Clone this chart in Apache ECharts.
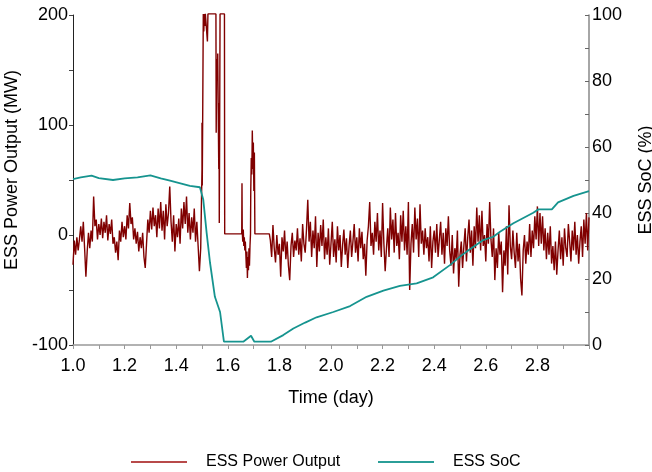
<!DOCTYPE html>
<html>
<head>
<meta charset="UTF-8">
<title>ESS power and SoC</title>
<script src="https://cdn.jsdelivr.net/npm/echarts@6/dist/echarts.min.js"></script>
<style>
  html, body { margin: 0; padding: 0; background: #fff; }
  #main { width: 652px; height: 472px; }
</style>
</head>
<body>
<div id="main"></div>
<script type="text/javascript">
// power output, first stretch (day 1.000 .. 1.500, every 0.005 day)
var powerStartA = 1.0;
var powerStepA = 0.005;
var powerA = [
  -27, -5, -18, -2, -14, -4, 8, -6, 12, -12,
  -38, -15, 2, -12, 4, -6, 35, 8, 14, -4,
  10, 0, 15, -3, 12, 2, 18, -5, 10, 1,
  14, -8, -2, -16, -6, -23, 4, -6, 12, -2,
  8, -4, 18, 6, 29, 10, 16, -4, 6, -8,
  3, -15, -2, -12, 2, -20, -30, -8, 14, 2,
  22, 5, 25, 8, 18, -2, 24, 6, 30, 4,
  22, -4, 28, 8, 20, 44, 12, -6, 18, -15,
  10, -2, 15, -8, 24, 6, 30, 10, 35, 2,
  20, -4, 16, 2, 24, -6, 12, -10, -33, -12,
  60
];

// event around day 1.5 - 1.76 (time, MW)
var eventTime = [
  1.5, 1.501, 1.503, 1.505, 1.507, 1.509, 1.511, 1.513, 1.519, 1.521,
  1.523, 1.554, 1.555, 1.557, 1.559, 1.561, 1.563, 1.565, 1.566, 1.567,
  1.568, 1.570, 1.587, 1.588, 1.654, 1.655, 1.656, 1.658, 1.660, 1.662,
  1.664, 1.666, 1.668, 1.670, 1.672, 1.674, 1.676, 1.678, 1.680, 1.682,
  1.684, 1.686, 1.688, 1.689, 1.691, 1.693, 1.695, 1.697, 1.699, 1.701,
  1.703, 1.705, 1.761
];
var eventPower = [
  102, 45, 120, 201, 185, 201, 190, 201, 201, 176,
  201, 201, 93, 160, 140, 165, 110, 60, 120, 11,
  70, 201, 201, 1, 1, 47, 3, -6, 5, -10,
  -2, -14, -6, -18, -30, -15, -39, -20, -32, -12,
  -28, -10, 1, 40, 70, 55, 95, 60, 84, 40,
  75, 1, 1
];

// power output, second stretch (day 1.765 .. 3.000, every 0.005 day)
var powerStartB = 1.765;
var powerStepB = 0.005;
var powerB = [
  -5, -20, 9, -12, -25, 0, -18, -8, -38, -2,
  -15, 4, -22, -6, -28, -41, -10, 2, -20, -5,
  -14, 6, -18, -3, -24, 10, -8, -16, 5, 32,
  -6, 12, -20, 4, -12, 17, -29, 2, -15, 9,
  -10, 14, -22, -2, -18, 6, -27, -8, 12, -20,
  -4, -25, 8, -14, 0, -29, -9, 5, -18, -3,
  -30, -10, 4, -20, -6, 10, -16, -2, -24, 6,
  -12, 3, -22, -8, -37, -5, 8, 30, -10, 2,
  -18, 12, -6, 20, -14, 4, -20, 29, -8, -33,
  -12, 6, -20, 25, -4, 14, -16, 20, -10, 2,
  -22, 18, -6, 22, -14, 8, -18, 30, -50, -8,
  10, -16, 25, -4, 15, -20, 28, -8, 4, -18,
  6, -12, -2, -24, 8, -30, -6, 4, -16, 10,
  -20, -4, 12, -18, 2, -26, 6, -10, 17, -14,
  -28, 0, -35, -12, -22, 4, -47, -18, -6, -30,
  -10, 6, -24, -2, 14, -16, 4, -28, 8, -12,
  25, -6, 18, -14, 22, -10, 0, -24, 10, -8,
  30, -4, -20, 6, -41, -12, -30, 2, -18, -6,
  -52, -14, -28, 8, -36, 27, -10, -22, 4, -16,
  -30, 2, -24, -8, -40, -55, -14, 0, -26, -6,
  -18, 10, -20, 4, -12, 17, -4, 26, -10, 20,
  -8, 17, -14, 6, -22, 2, -18, 8, -26, -10,
  -32, -6, -36, -14, 4, -22, -2, -28, 6, -12,
  -20, 10, -6, -24, 4, -14, 12, -18, 0, -26,
  -6, 8, -20, 14, -8, 20, -14, 16
];

// state of charge (time, %)
var socTime = [
  1.0, 1.03, 1.072, 1.1, 1.155, 1.2, 1.25, 1.3, 1.34, 1.376,
  1.42, 1.453, 1.492, 1.497, 1.505, 1.518, 1.531, 1.55, 1.57, 1.585,
  1.66, 1.69, 1.703, 1.767, 1.815, 1.854, 1.9, 1.944, 2.009, 2.074,
  2.138, 2.203, 2.267, 2.332, 2.396, 2.461, 2.5, 2.526, 2.59, 2.629,
  2.655, 2.707, 2.784, 2.804, 2.856, 2.88, 2.94, 3.0
];
var socValue = [
  50.3, 50.8, 51.3, 50.6, 50.0, 50.5, 50.8, 51.4, 50.5, 49.8,
  48.9, 48.2, 47.8, 47.6, 44, 34, 25, 14.6, 10, 1.0,
  1.0, 2.8, 1.0, 1.0, 3, 5, 6.8, 8.4, 10, 11.8,
  14.6, 16.5, 17.9, 18.7, 20.5, 24.2, 26.8, 28.3, 31.8, 32.8,
  34.3, 36.9, 40.1, 41.1, 41.1, 43.2, 45.2, 46.6
];

var powerData = [];
for (var i = 0; i < powerA.length; i++) {
  powerData.push([+(powerStartA + i * powerStepA).toFixed(4), powerA[i]]);
}
for (var i = 0; i < eventTime.length; i++) {
  powerData.push([eventTime[i], eventPower[i]]);
}
for (var i = 0; i < powerB.length; i++) {
  powerData.push([+(powerStartB + i * powerStepB).toFixed(4), powerB[i]]);
}
var socData = [];
for (var i = 0; i < socTime.length; i++) {
  socData.push([socTime[i], socValue[i]]);
}

var font = 'Liberation Sans, Arial, sans-serif';
var myChart = echarts.init(document.getElementById('main'));
var option = {
  animation: false,
  backgroundColor: '#fff',
  textStyle: { fontFamily: font, color: '#000' },
  grid: { left: 73, right: 63, top: 15, bottom: 127, outerBoundsMode: 'none', containLabel: false },
  legend: [{
    left: 126, top: 449,
    icon: 'rect', itemWidth: 56, itemHeight: 2,
    textStyle: { fontFamily: font, fontSize: 16, color: '#000', padding: [0, 0, 0, 14] },
    data: [{ name: 'ESS Power Output', itemStyle: { color: '#b84a4a' } }]
  }, {
    left: 373, top: 449,
    icon: 'rect', itemWidth: 56, itemHeight: 2,
    textStyle: { fontFamily: font, fontSize: 16, color: '#000', padding: [0, 0, 0, 14] },
    data: [{ name: 'ESS SoC', itemStyle: { color: '#2b9e98' } }]
  }],
  xAxis: {
    type: 'value', min: 1, max: 3, interval: 0.1,
    name: 'Time (day)', nameLocation: 'middle', nameGap: 44,
    nameTextStyle: { fontFamily: font, fontSize: 18, color: '#000' },
    axisLine: { onZero: false, lineStyle: { color: '#999', width: 1.5 } },
    axisTick: { length: 4, lineStyle: { color: '#999' } },
    splitLine: { show: false },
    axisLabel: {
      fontFamily: font, fontSize: 18, color: '#000', margin: 12,
      showMaxLabel: true,
      formatter: function (v) {
        var k = Math.round(v * 10);
        return (k % 2 === 0 && k < 30) ? (k / 10).toFixed(1) : '';
      }
    }
  },
  yAxis: [{
    type: 'value', min: -100, max: 200, interval: 50,
    name: 'ESS Power Output (MW)', nameLocation: 'middle', nameGap: 52,
    nameTextStyle: { fontFamily: font, fontSize: 18, color: '#000', padding: [0, 0, 0, 20] },
    axisLine: { show: true, lineStyle: { color: '#222', width: 1 } },
    axisTick: { show: true, length: 4, lineStyle: { color: '#444' } },
    splitLine: { show: false },
    axisLabel: {
      fontFamily: font, fontSize: 18, color: '#000', margin: 5,
      formatter: function (v) { return v % 100 === 0 ? String(v) : ''; }
    }
  }, {
    type: 'value', min: 0, max: 100, interval: 10, position: 'right',
    name: 'ESS SoC (%)', nameLocation: 'middle', nameGap: 48,
    nameTextStyle: { fontFamily: font, fontSize: 18, color: '#000' },
    axisLine: { show: true, lineStyle: { color: '#888', width: 1.5 } },
    axisTick: { show: true, inside: true, length: 4, lineStyle: { color: '#666' } },
    splitLine: { show: false },
    axisLabel: {
      fontFamily: font, fontSize: 18, color: '#000', margin: 3,
      formatter: function (v) { return v % 20 === 0 ? String(v) : ''; }
    }
  }],
  series: [{
    name: 'ESS Power Output', type: 'line', yAxisIndex: 0,
    showSymbol: false, symbol: 'none', clip: false,
    lineStyle: { color: '#800000', width: 1.4 },
    itemStyle: { color: '#800000' },
    data: powerData
  }, {
    name: 'ESS SoC', type: 'line', yAxisIndex: 1,
    showSymbol: false, symbol: 'none',
    lineStyle: { color: '#16948f', width: 1.8 },
    itemStyle: { color: '#16948f' },
    data: socData
  }]
};
myChart.setOption(option);
</script>
</body>
</html>
